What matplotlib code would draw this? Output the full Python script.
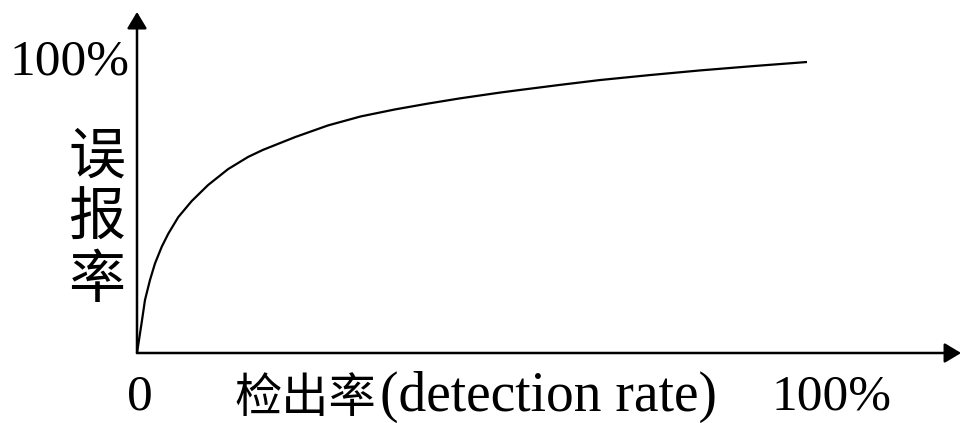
import matplotlib
matplotlib.use("Agg")
import matplotlib.pyplot as plt

# curve (percent of full scale)
detection_rate = [0, 0.70, 1.19, 1.94, 2.69, 3.69, 4.67, 6.16, 8.16, 10.6,
                  13.6, 16.6, 18.8, 23.6, 28.5, 33.4, 38.5, 43.4, 48.2, 54.2,
                  57.2, 63.0, 69.1, 76.5, 84.0, 92.0, 100]
false_alarm = [0, 10.5, 18.2, 25.1, 30.8, 36.5, 41.0, 46.7, 52.2, 57.7,
               63.2, 67.4, 69.8, 74.2, 78.2, 81.3, 83.7, 85.7, 87.5, 89.5,
               90.4, 92.1, 93.8, 95.5, 97.1, 98.6, 100]

W, H = 961, 423
fig = plt.figure(figsize=(W / 100, H / 100), dpi=100)

# axes box: x 0..100 -> px 137..807, y 0..100 -> px 353..62
ax = fig.add_axes([137 / W, (H - 353) / H, 670 / W, 291 / H])
ax.set_xlim(0, 100)
ax.set_ylim(0, 100)
ax.axis("off")

ax.plot(detection_rate, false_alarm, color="black", lw=1.6,
        solid_joinstyle="round", solid_capstyle="butt", clip_on=False)

# axis arrows
arrow = dict(arrowstyle="-|>,head_length=0.5,head_width=0.3", lw=1.8,
             color="black", mutation_scale=20, shrinkA=0, shrinkB=0)
ax.annotate("", xy=(123.0, 0), xytext=(0, 0), arrowprops=arrow,
            annotation_clip=False)
ax.annotate("", xy=(0, 117.2), xytext=(0, 0), arrowprops=arrow,
            annotation_clip=False)

serif = ["Liberation Serif", "Noto Sans CJK SC"]
cjk = ["Noto Sans CJK SC", "Liberation Serif"]


def px(x, y):
    return x / W, 1 - y / H


fig.text(*px(70, 62), "100%", family=serif, fontsize=37,
         ha="center", va="center")
fig.text(*px(140, 397), "0", family=serif, fontsize=37,
         ha="center", va="center")
fig.text(*px(831, 397), "100%", family=serif, fontsize=37,
         ha="center", va="center")

for ch, yc in zip("误报率", [157, 219, 281]):
    fig.text(*px(97, yc), ch, family=cjk, fontsize=41,
             ha="center", va="center")

fig.text(*px(305, 399), "检出率", family=cjk, fontsize=34,
         ha="center", va="center")
fig.text(*px(548, 397), "(detection rate)", family=serif, fontsize=40,
         ha="center", va="center")

fig.savefig("out.png", dpi=100, facecolor="white")
